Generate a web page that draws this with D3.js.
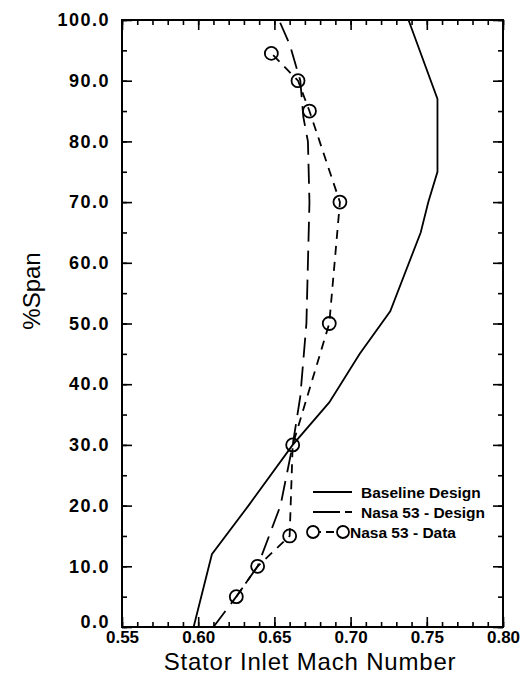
<!DOCTYPE html>
<html lang="en">
<head>
  <meta charset="UTF-8" />
  <title>Stator Inlet Mach Number</title>
  <style>
    body { margin: 0; background: #fff; font-family: "Liberation Sans", Arial, sans-serif; }
    svg { display: block; }
    .tick-label text { font-weight: bold; font-size: 17px; fill: #000; }
    .ylab text { font-size: 18px; letter-spacing: 1.5px; }
  </style>
</head>
<body>
  <svg id="chart"></svg>

  <script src="https://d3js.org/d3.v7.min.js"></script>
  <script>
    // values
    const baseSpan = [0, 12, 20, 30, 37, 45, 52, 65, 70, 75, 87, 100];
    const baseMach = [0.597, 0.609, 0.633, 0.662, 0.686, 0.706, 0.726, 0.746, 0.751, 0.757, 0.757, 0.738];

    const designSpan = [0, 5, 10, 20, 30, 38, 50, 60, 70, 80, 84, 90, 96, 100];
    const designMach = [0.610, 0.625, 0.639, 0.654, 0.662, 0.667, 0.671, 0.672, 0.673, 0.672, 0.669, 0.667, 0.660, 0.653];

    const dataSpan = [5, 10, 15, 30, 50, 70, 85, 90, 94.5];
    const dataMach = [0.625, 0.639, 0.660, 0.662, 0.686, 0.693, 0.673, 0.6655, 0.648];

    const xTicks = [0.55, 0.60, 0.65, 0.70, 0.75, 0.80];
    const yTicks = [0, 10, 20, 30, 40, 50, 60, 70, 80, 90, 100];

    const legendLabels = ["Baseline Design", "Nasa 53 - Design", "Nasa 53 - Data"];

    const W = 530, H = 690;
    const margin = {top: 20, right: 27, bottom: 63, left: 122};
    const width = W - margin.left - margin.right;
    const height = H - margin.top - margin.bottom;

    const root = d3.select("#chart").attr("width", W).attr("height", H);
    const svg = root.append("g").attr("transform", `translate(${margin.left},${margin.top})`);

    const x = d3.scaleLinear().domain([0.55, 0.80]).range([0, width]);
    const y = d3.scaleLinear().domain([0, 100]).range([height, 0]);

    const minorX = d3.range(55, 81).map(d => d / 100);
    const minorY = d3.range(0, 101, 5);

    // minor ticks, all four sides, pointing inward
    svg.append("g").attr("transform", `translate(0,${height})`)
      .call(d3.axisBottom(x).tickValues(minorX).tickSize(-5).tickFormat(""));
    svg.append("g")
      .call(d3.axisTop(x).tickValues(minorX).tickSize(-5).tickFormat(""));
    svg.append("g")
      .call(d3.axisLeft(y).tickValues(minorY).tickSize(-5).tickFormat(""));
    svg.append("g").attr("transform", `translate(${width},0)`)
      .call(d3.axisRight(y).tickValues(minorY).tickSize(-5).tickFormat(""));

    // major ticks with labels
    svg.append("g").attr("class", "tick-label").attr("transform", `translate(0,${height})`)
      .call(d3.axisBottom(x).tickValues(xTicks).tickSizeInner(-10).tickSizeOuter(0)
        .tickPadding(4).tickFormat(d3.format(".2f")));
    svg.append("g")
      .call(d3.axisTop(x).tickValues(xTicks).tickSizeInner(-10).tickSizeOuter(0).tickFormat(""));
    svg.append("g").attr("class", "tick-label ylab")
      .call(d3.axisLeft(y).tickValues(yTicks).tickSizeInner(-10).tickSizeOuter(0)
        .tickPadding(12).tickFormat(d3.format(".1f")));
    svg.append("g").attr("transform", `translate(${width},0)`)
      .call(d3.axisRight(y).tickValues(yTicks).tickSizeInner(-10).tickSizeOuter(0).tickFormat(""));

    // the 0.0 label sits a little above the corner
    svg.selectAll(".ylab .tick").filter(d => d === 0).select("text").attr("dy", "0.05em");

    svg.selectAll(".domain").remove();
    svg.selectAll(".tick line").attr("stroke", "#000").attr("stroke-width", 1.6);

    svg.append("rect")
      .attr("width", width).attr("height", height)
      .attr("fill", "none").attr("stroke", "#000").attr("stroke-width", 2);

    const line = d3.line().x(d => x(d[0])).y(d => y(d[1]));

    svg.append("path")
      .datum(d3.zip(baseMach, baseSpan))
      .attr("fill", "none").attr("stroke", "#000").attr("stroke-width", 1.8)
      .attr("d", line);

    svg.append("path")
      .datum(d3.zip(designMach, designSpan))
      .attr("fill", "none").attr("stroke", "#000").attr("stroke-width", 1.8)
      .attr("stroke-dasharray", "20 9")
      .attr("d", line);

    svg.append("path")
      .datum(d3.zip(dataMach, dataSpan))
      .attr("fill", "none").attr("stroke", "#000").attr("stroke-width", 1.8)
      .attr("stroke-dasharray", "9 7")
      .attr("d", line);

    svg.selectAll(".pt")
      .data(d3.zip(dataMach, dataSpan))
      .join("circle")
      .attr("cx", d => x(d[0]))
      .attr("cy", d => y(d[1]))
      .attr("r", 6.5)
      .attr("fill", "none").attr("stroke", "#000").attr("stroke-width", 1.8);

    // axis titles
    root.append("text")
      .attr("x", 310).attr("y", 670)
      .attr("text-anchor", "middle")
      .attr("font-size", 24).attr("letter-spacing", 0.8)
      .text("Stator Inlet Mach Number");

    root.append("text")
      .attr("transform", "translate(40,291) rotate(-90)")
      .attr("text-anchor", "middle")
      .attr("font-size", 24)
      .text("%Span");

    // legend
    const lg = root.append("g");
    const ly = [492, 512, 532];
    lg.append("line").attr("x1", 313).attr("x2", 352).attr("y1", ly[0]).attr("y2", ly[0])
      .attr("stroke", "#000").attr("stroke-width", 1.8);
    lg.append("line").attr("x1", 313).attr("x2", 352).attr("y1", ly[1]).attr("y2", ly[1])
      .attr("stroke", "#000").attr("stroke-width", 1.8).attr("stroke-dasharray", "27 5");
    lg.append("line").attr("x1", 313).attr("x2", 343).attr("y1", ly[2]).attr("y2", ly[2])
      .attr("stroke", "#000").attr("stroke-width", 1.8).attr("stroke-dasharray", "8 5");
    lg.selectAll("circle").data([313, 343]).join("circle")
      .attr("cx", d => d).attr("cy", ly[2]).attr("r", 6)
      .attr("fill", "#fff").attr("stroke", "#000").attr("stroke-width", 1.8);
    lg.selectAll("text").data(legendLabels).join("text")
      .attr("x", (d, i) => i === 2 ? 350 : 361)
      .attr("y", (d, i) => ly[i] + 5.5)
      .attr("font-size", 15.5).attr("font-weight", "bold")
      .text(d => d);
  </script>
</body>
</html>
